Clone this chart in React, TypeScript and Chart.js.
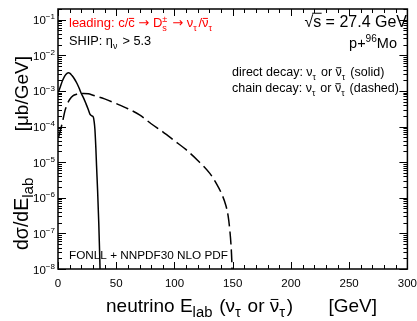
import React, { useEffect, useRef } from 'react';
import { Chart, registerables } from 'chart.js';

Chart.register(...registerables);

// direct decay (solid): neutrino energy [GeV] and dσ/dE [μb/GeV]
const directE = [0.5, 2, 4, 6, 8, 9, 10, 12, 14, 16, 18, 20, 22, 24, 26, 27.4, 29, 30.3, 31, 31.7, 32.5, 33.1, 34, 35, 35.8, 36.3];
const directVal = [9.5e-4, 1.32e-3, 2.0e-3, 2.7e-3, 3.16e-3, 3.24e-3, 3.16e-3, 2.7e-3, 2.2e-3, 1.7e-3, 1.23e-3, 8.5e-4, 6.3e-4, 4.4e-4, 3.0e-4, 2.24e-4, 2.0e-4, 1.86e-4, 1.4e-4, 8.3e-5, 2.5e-5, 7.9e-6, 1.6e-6, 2.0e-7, 2.5e-8, 5e-9];

// chain decay (dashed)
const chainE = [0.5, 2, 4, 6, 8, 10, 13, 16, 19, 22, 26, 30, 40, 50, 60, 70, 80, 90, 100, 110, 120, 130, 136, 140, 144, 146, 147.5, 148.5, 149.2, 149.6];
const chainVal = [5.0e-5, 7.6e-5, 1.41e-4, 2.8e-4, 4.3e-4, 5.75e-4, 7.4e-4, 8.1e-4, 8.5e-4, 8.5e-4, 8.3e-4, 7.6e-4, 6.0e-4, 4.4e-4, 3.16e-4, 2.14e-4, 1.2e-4, 7.1e-5, 4.0e-5, 2.24e-5, 1.12e-5, 5.0e-6, 2.5e-6, 1.4e-6, 6.3e-7, 3.2e-7, 1.26e-7, 5.0e-8, 1.78e-8, 6.3e-9];

const xTickValues = [0, 50, 100, 150, 200, 250, 300];
const yDecades = [-8, -7, -6, -5, -4, -3, -2, -1];

const FONT = '"Liberation Sans", Arial, Helvetica, sans-serif';
const SYM = '"DejaVu Sans", sans-serif';

type Seg = { t?: string; sub?: string; sup?: string; bar?: boolean; root?: boolean; f?: string };
type RichOpt = { subScale?: number; subPad?: number };

function segWidth(ctx: CanvasRenderingContext2D, s: Seg, size: number, o: RichOpt) {
  const ss = o.subScale ?? 0.7;
  let w = 0;
  if (s.t) {
    ctx.font = `${size}px ${s.f ?? FONT}`;
    w += ctx.measureText(s.t).width;
  }
  let sw = 0;
  ctx.font = `${size * ss}px ${FONT}`;
  if (s.sub) sw = Math.max(sw, ctx.measureText(s.sub).width);
  if (s.sup) sw = Math.max(sw, ctx.measureText(s.sup).width);
  if (s.sub || s.sup) sw += o.subPad ?? 0;
  return w + sw;
}

function drawRich(
  ctx: CanvasRenderingContext2D,
  x: number,
  y: number,
  segs: Seg[],
  size: number,
  color: string,
  align: 'left' | 'right' | 'center' = 'left',
  o: RichOpt = {}
) {
  const ss = o.subScale ?? 0.7;
  const total = segs.reduce((a, s) => a + segWidth(ctx, s, size, o), 0);
  let cx = align === 'right' ? x - total : align === 'center' ? x - total / 2 : x;
  ctx.save();
  ctx.fillStyle = color;
  ctx.strokeStyle = color;
  ctx.textBaseline = 'alphabetic';
  ctx.textAlign = 'left';
  for (const s of segs) {
    if (s.t) {
      ctx.font = `${size}px ${s.f ?? FONT}`;
      const w = ctx.measureText(s.t).width;
      ctx.fillText(s.t, cx, y);
      if (s.bar) {
        ctx.lineWidth = 1;
        ctx.beginPath();
        const by = y - size * 0.66;
        ctx.moveTo(cx + w * 0.1, by);
        ctx.lineTo(cx + w * 0.9, by);
        ctx.stroke();
      }
      if (s.root) {
        ctx.lineWidth = 1;
        ctx.beginPath();
        const by = y - size * 0.86;
        ctx.moveTo(cx - 1, by);
        ctx.lineTo(cx + w + 0.5, by);
        ctx.stroke();
      }
      cx += w;
    }
    ctx.font = `${size * ss}px ${FONT}`;
    let sw = 0;
    if (s.sub) {
      ctx.fillText(s.sub, cx, y + size * 0.28);
      sw = Math.max(sw, ctx.measureText(s.sub).width);
    }
    if (s.sup) {
      ctx.fillText(s.sup, cx, y - size * 0.42);
      sw = Math.max(sw, ctx.measureText(s.sup).width);
    }
    if (s.sub || s.sup) sw += o.subPad ?? 0;
    cx += sw;
  }
  ctx.restore();
}

const decorPlugin = {
  id: 'rootDecor',
  afterDraw(chart: any) {
    const ctx: CanvasRenderingContext2D = chart.ctx;
    const { left, right, top, bottom } = chart.chartArea;
    const xs = chart.scales.x;
    const ys = chart.scales.y;
    ctx.save();
    ctx.strokeStyle = '#000';
    ctx.lineWidth = 1;

    // x ticks (bottom & top)
    for (let v = 0; v <= 300; v += 10) {
      const px = Math.round(xs.getPixelForValue(v)) + 0.5;
      const len = v % 50 === 0 ? 7 : 4;
      ctx.beginPath();
      ctx.moveTo(px, bottom);
      ctx.lineTo(px, bottom - len);
      ctx.moveTo(px, top);
      ctx.lineTo(px, top + len);
      ctx.stroke();
    }
    // y ticks (left & right)
    const ymin = ys.min;
    const ymax = ys.max;
    for (let d = -8; d <= 0; d++) {
      for (let m = 1; m <= 9; m++) {
        const v = m * Math.pow(10, d);
        if (v < ymin * 0.999 || v > ymax * 1.001) continue;
        const py = Math.round(ys.getPixelForValue(v)) + 0.5;
        const len = m === 1 ? 8 : 4;
        ctx.beginPath();
        ctx.moveTo(left, py);
        ctx.lineTo(left + len, py);
        ctx.moveTo(right, py);
        ctx.lineTo(right - len, py);
        ctx.stroke();
      }
    }
    // frame
    ctx.lineWidth = 1.5;
    ctx.strokeRect(left, top, right - left, bottom - top);

    // y tick labels
    for (const d of yDecades) {
      const py = ys.getPixelForValue(Math.pow(10, d));
      drawRich(ctx, left - 3, py + 4.5, [{ t: '10', sup: '\u2212' + Math.abs(d) }], 11.5, '#000', 'right');
    }

    // axis titles
    const tOpt = { subScale: 0.78, subPad: 1.5 };
    drawRich(
      ctx,
      106,
      312,
      [
        { t: 'neutrino E', sub: 'lab' },
        { t: ' (\u03bd', sub: '\u03c4' },
        { t: ' or ' },
        { t: '\u03bd', bar: true, sub: '\u03c4' },
        { t: ')' },
      ],
      19,
      '#000',
      'left',
      tOpt
    );
    drawRich(ctx, 377, 312, [{ t: '[GeV]' }], 19, '#000', 'right', tOpt);
    ctx.save();
    ctx.translate(28, 250);
    ctx.rotate(-Math.PI / 2);
    drawRich(ctx, 0, 0, [{ t: 'd\u03c3/dE', sub: 'lab' }], 19.5, '#000', 'left', tOpt);
    drawRich(ctx, 250 - 56, 0, [{ t: '[\u03bcb/GeV]' }], 19, '#000', 'right', tOpt);
    ctx.restore();

    // annotations
    const aOpt = { subScale: 0.7, subPad: 1.5 };
    drawRich(
      ctx,
      69,
      27,
      [
        { t: 'leading: c/' },
        { t: 'c', bar: true },
        { t: ' ' },
        { t: '\u2192', f: SYM },
        { t: ' D', sub: 's', sup: '\u00b1' },
        { t: ' ' },
        { t: '\u2192', f: SYM },
        { t: ' \u03bd', sub: '\u03c4' },
        { t: '/' },
        { t: '\u03bd', bar: true, sub: '\u03c4' },
      ],
      13,
      '#ff0000',
      'left',
      aOpt
    );
    drawRich(ctx, 69, 45, [{ t: 'SHIP: \u03b7', sub: '\u03bd' }, { t: ' > 5.3' }], 12.75, '#000', 'left', aOpt);
    drawRich(ctx, 407, 27, [{ t: '\u221a' }, { t: 's', root: true }, { t: ' = 27.4 GeV' }], 16, '#000', 'right');
    drawRich(ctx, 397, 48, [{ t: 'p+', sup: '96' }, { t: 'Mo' }], 14.5, '#000', 'right');
    drawRich(
      ctx,
      232,
      76,
      [
        { t: 'direct decay: \u03bd', sub: '\u03c4' },
        { t: ' or ' },
        { t: '\u03bd', bar: true, sub: '\u03c4' },
        { t: ' (solid)' },
      ],
      12.5,
      '#000',
      'left',
      aOpt
    );
    drawRich(
      ctx,
      232,
      92,
      [
        { t: 'chain decay: \u03bd', sub: '\u03c4' },
        { t: ' or ' },
        { t: '\u03bd', bar: true, sub: '\u03c4' },
        { t: ' (dashed)' },
      ],
      12.5,
      '#000',
      'left',
      aOpt
    );
    drawRich(ctx, 69, 259, [{ t: 'FONLL + NNPDF30 NLO PDF' }], 11.75, '#000', 'left');
    ctx.restore();
  },
};

export default function App() {
  const ref = useRef<HTMLCanvasElement | null>(null);
  useEffect(() => {
    if (!ref.current) return;
    const chart = new Chart(ref.current, {
      type: 'line',
      data: {
        datasets: [
          {
            label: 'direct decay',
            data: directE.map((e, i) => ({ x: e, y: directVal[i] })),
            borderColor: '#000',
            borderWidth: 1.5,
            pointRadius: 0,
            fill: false,
            cubicInterpolationMode: 'monotone',
          },
          {
            label: 'chain decay',
            data: chainE.map((e, i) => ({ x: e, y: chainVal[i] })),
            borderColor: '#000',
            borderWidth: 1.5,
            borderDash: [13, 5],
            pointRadius: 0,
            fill: false,
            cubicInterpolationMode: 'monotone',
          },
        ],
      },
      options: {
        animation: false,
        responsive: false,
        devicePixelRatio: 1,
        layout: { padding: { top: 9, right: 9, left: 0, bottom: 0 } },
        plugins: { legend: { display: false }, tooltip: { enabled: false } },
        scales: {
          x: {
            type: 'linear',
            min: 0,
            max: 300,
            grid: { display: false },
            border: { display: false },
            afterBuildTicks: (s: any) => {
              s.ticks = xTickValues.map((v) => ({ value: v }));
            },
            ticks: {
              autoSkip: false,
              maxRotation: 0,
              padding: 0,
              color: '#000',
              font: { family: FONT, size: 11.5 },
              callback: (v: any) => String(v),
            },
            afterFit: (s: any) => {
              s.height = 52;
            },
          },
          y: {
            type: 'logarithmic',
            min: 1e-8,
            max: 0.2,
            grid: { display: false },
            border: { display: false },
            ticks: { display: false },
            afterFit: (s: any) => {
              s.width = 58;
            },
          },
        },
      },
      plugins: [decorPlugin],
    } as any);
    return () => chart.destroy();
  }, []);
  return (
    <div style={{ position: 'fixed', left: 0, top: 0, width: 417, height: 321, background: '#fff' }}>
      <canvas ref={ref} width={417} height={321} style={{ display: 'block' }} />
    </div>
  );
}
